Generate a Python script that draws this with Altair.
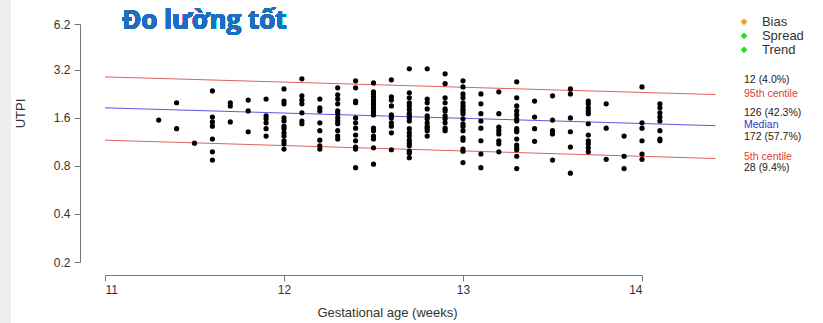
import altair as alt
import pandas as pd

# ---- data ----
ages = [11.3, 11.4, 11.5, 11.6, 11.7, 11.8, 11.9, 12.0, 12.1, 12.2, 12.3, 12.4,
        12.5, 12.6, 12.7, 12.8, 12.9, 13.0, 13.1, 13.2, 13.3, 13.4, 13.5, 13.6,
        13.7, 13.8, 13.9, 14.0, 14.1]
utpi = [
    [1.55],
    [1.99, 1.37],
    [1.11],
    [2.36, 1.62, 1.51, 1.42, 1.18, 0.98, 0.87],
    [1.99, 1.90, 1.51],
    [2.07, 1.77, 1.31],
    [2.10, 1.65, 1.58, 1.49, 1.37, 1.23],
    [2.43, 2.04, 1.96, 1.60, 1.53, 1.42, 1.37, 1.29, 1.23, 1.15, 1.10, 1.02],
    [2.81, 2.20, 2.07, 1.96, 1.72, 1.53, 1.47],
    [2.10, 1.85, 1.77, 1.49, 1.33, 1.16, 1.07, 1.02],
    [2.47, 2.23, 2.10, 1.96, 1.77, 1.70, 1.60, 1.53, 1.47, 1.33, 1.23, 1.18],
    [2.73, 2.47, 2.04, 1.99, 1.60, 1.49, 1.38, 1.25, 1.15, 1.05, 1.02, 0.78],
    [2.65, 2.33, 2.26, 2.17, 2.07, 1.99, 1.93, 1.85, 1.77, 1.72, 1.67, 1.38,
     1.33, 1.23, 1.18, 1.04, 0.82],
    [2.77, 2.17, 2.07, 1.90, 1.67, 1.60, 1.49, 1.42, 1.29, 1.01],
    [3.25, 2.30, 2.14, 1.99, 1.90, 1.80, 1.70, 1.65, 1.60, 1.53, 1.37, 1.29,
     1.23, 1.16, 1.11, 1.07, 0.99, 0.96, 0.90],
    [3.25, 2.10, 1.99, 1.82, 1.65, 1.58, 1.49, 1.42, 1.38, 1.33, 1.23],
    [3.02, 2.62, 2.14, 1.99, 1.82, 1.77, 1.65, 1.58, 1.49, 1.38, 1.33],
    [2.73, 2.50, 2.26, 2.14, 1.99, 1.90, 1.82, 1.77, 1.70, 1.58, 1.47, 1.42,
     1.33, 1.20, 1.16, 1.02, 0.99, 0.84],
    [2.26, 1.96, 1.70, 1.53, 1.38, 1.15, 0.95, 0.78],
    [2.33, 1.70, 1.40, 1.33, 1.27, 1.15, 1.10, 0.98],
    [2.69, 2.14, 1.90, 1.77, 1.67, 1.58, 1.53, 1.37, 1.33, 1.31, 1.18, 1.08,
     1.04, 1.01, 0.92, 0.77],
    [2.04, 1.62, 1.37, 1.14],
    [2.20, 1.55, 1.33, 1.27, 0.87],
    [2.43, 2.26, 1.60, 1.31, 1.05, 0.72],
    [2.04, 1.96, 1.85, 1.77, 1.70, 1.47, 1.25, 1.15, 1.10, 1.04, 0.98],
    [1.96, 1.38, 0.88],
    [1.23, 0.92, 0.77],
    [2.50, 1.49, 1.38, 1.15, 0.95, 0.88],
    [1.96, 1.85, 1.72, 1.62, 1.53, 1.33, 1.18, 1.15],
]

line_age = [11.0, 14.41]
p95 = [2.89, 2.24]
median = [1.85, 1.43]
p5 = [1.16, 0.89]

ann_labels = ["12 (4.0%)", "95th centile", "126 (42.3%)", "Median",
              "172 (57.7%)", "5th centile", "28 (9.4%)"]
ann_utpi = [2.75, 2.25, 1.71, 1.44, 1.22, 0.91, 0.78]
ann_colors = ["#222222", "#e03a3a", "#222222", "#3333cc",
              "#222222", "#e03a3a", "#222222"]

leg_labels = ["Bias", "Spread", "Trend"]
leg_utpi = [6.40, 5.23, 4.27]
leg_colors = ["#f0a020", "#22dd22", "#22dd22"]

x_ticks = [11, 12, 13, 14]
y_ticks = [0.2, 0.4, 0.8, 1.6, 3.2, 6.2]

# ---- tables ----
points = pd.DataFrame([{"age": a, "utpi": v} for a, vals in zip(ages, utpi) for v in vals])
lines = pd.DataFrame({
    "age": line_age * 3,
    "utpi": p95 + median + p5,
    "line": ["p95"] * 2 + ["median"] * 2 + ["p5"] * 2,
})
ann = pd.DataFrame({"label": ann_labels, "utpi": ann_utpi, "color": ann_colors,
                    "age": [14.57] * len(ann_labels)})
leg = pd.DataFrame({"label": leg_labels, "utpi": leg_utpi, "color": leg_colors,
                    "age": [14.57] * 3, "age_txt": [14.67] * 3})

FONT = "Liberation Sans"
xs = alt.Scale(domain=[11, 14], nice=False, zero=False)
ys = alt.Scale(type="log", domain=[0.2, 6.2], nice=False)

xaxis = alt.Axis(values=x_ticks, format="d", offset=13, tickSize=6, labelPadding=3,
                 domainColor="#777777", tickColor="#777777", labelColor="#333333",
                 labelFontSize=12, labelFont=FONT, grid=False,
                 title="Gestational age (weeks)", titleFont=FONT, titleFontSize=13,
                 titleFontWeight="normal", titleColor="#333333",
                 titleX=282, titleY=41, titleBaseline="alphabetic")
yaxis = alt.Axis(values=y_ticks, format=".1f", offset=25, tickSize=6, labelPadding=4,
                 domainColor="#777777", tickColor="#777777", labelColor="#333333",
                 labelFontSize=12, labelFont=FONT, grid=False,
                 title="UTPI", titleFont=FONT, titleFontSize=13,
                 titleFontWeight="normal", titleColor="#333333",
                 titleX=-60, titleY=89, titleAlign="center", titleBaseline="middle",
                 titleAngle=270)

strip = alt.Chart(points).mark_rect(color="#eeeeee").encode(
    x=alt.value(-105), x2=alt.value(-94), y=alt.value(-24), y2=alt.value(299))

pts = alt.Chart(points).mark_circle(size=27, color="black", opacity=1).encode(
    x=alt.X("age:Q", scale=xs, axis=xaxis),
    y=alt.Y("utpi:Q", scale=ys, axis=yaxis),
)

ln = alt.Chart(lines).mark_line(strokeWidth=1).encode(
    x=alt.X("age:Q", scale=xs),
    y=alt.Y("utpi:Q", scale=ys),
    detail="line:N",
    color=alt.Color("line:N", scale=alt.Scale(domain=["p95", "median", "p5"],
                                              range=["#e06060", "#5a5ae0", "#e06060"]),
                    legend=None),
)

ann_txt = alt.Chart(ann).mark_text(align="left", baseline="middle", fontSize=10.5, font=FONT).encode(
    x=alt.X("age:Q", scale=xs),
    y=alt.Y("utpi:Q", scale=ys),
    text="label:N",
    color=alt.Color("color:N", scale=None),
)

leg_pts = alt.Chart(leg).mark_point(shape="diamond", filled=True, size=45, opacity=1).encode(
    x=alt.X("age:Q", scale=xs),
    y=alt.Y("utpi:Q", scale=ys),
    color=alt.Color("color:N", scale=None),
)
leg_txt = alt.Chart(leg).mark_text(align="left", baseline="middle", fontSize=13,
                                   font=FONT, color="#333333").encode(
    x=alt.X("age_txt:Q", scale=xs),
    y=alt.Y("utpi:Q", scale=ys),
    text="label:N",
)

title = alt.Chart(points).mark_text(text="Đo lường tốt", align="left", baseline="alphabetic",
                                    font="Open Sans", fontSize=26, fontWeight="bold",
                                    color="#1b6ec2").encode(x=alt.value(17), y=alt.value(5))

chart = alt.layer(strip, ln, pts, ann_txt, leg_pts, leg_txt, title).properties(
    width=537, height=238,
    autosize=alt.AutoSizeParams(type="none"),
    padding={"left": 105, "top": 24, "right": 181, "bottom": 61},
    background="white",
).configure_view(stroke=None)

chart.save("out.html", embed_options={"renderer": "svg", "actions": False})
